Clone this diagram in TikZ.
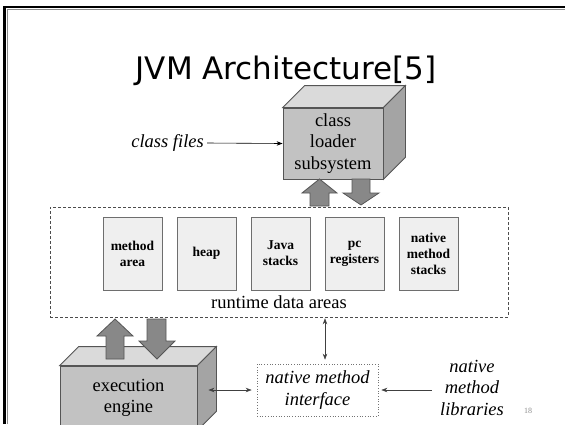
\documentclass[tikz,border=0pt]{standalone}
\usepackage{fontspec}
\setmainfont{Liberation Serif}
\newfontfamily\titlefont{DejaVu Sans}
\usetikzlibrary{arrows.meta,calc}

\definecolor{frontgray}{HTML}{C2C2C2}
\definecolor{topgray}{HTML}{DADADA}
\definecolor{sidegray}{HTML}{A4A4A4}
\definecolor{edgegray}{HTML}{555555}
\definecolor{arrowfill}{HTML}{888888}
\definecolor{cellfill}{HTML}{EFEFEF}
\definecolor{celledge}{HTML}{6E6E6E}

\tikzset{
  txt/.style={font=\fontsize{18.5}{21.5}\selectfont, align=center, inner sep=0pt},
  itxt/.style={txt, font=\fontsize{18.5}{21.5}\selectfont\itshape},
  front/.style={draw=edgegray, line width=0.8pt, fill=frontgray, txt},
  topface/.style={draw=edgegray, line width=0.8pt, fill=topgray},
  sideface/.style={draw=edgegray, line width=0.8pt, fill=sidegray},
  blockarrow/.style={draw=edgegray, line width=0.8pt, fill=arrowfill},
  cell/.style={draw=celledge, line width=0.8pt, fill=cellfill,
    minimum width=59pt, minimum height=73pt, inner sep=0pt,
    font=\fontsize{13.5}{16}\selectfont\bfseries, align=center},
  areabox/.style={draw=black!70, line width=0.6pt,
    dash pattern=on 3pt off 2pt, minimum width=458pt, minimum height=110pt},
  nmibox/.style={draw=black!55, dotted, line width=0.7pt, itxt,
    minimum width=121pt, minimum height=52pt},
  link/.style={line width=0.6pt, -{Stealth[length=6pt,width=4.5pt]}},
  biglink/.style={line width=0.6pt, black!75,
    {Stealth[length=6pt,width=4.5pt]}-{Stealth[length=6pt,width=4.5pt]}},
}

\begin{document}
\begin{tikzpicture}[x=1pt, y=-1pt]
\useasboundingbox (0,0) rectangle (565,424);
\clip (0,0) rectangle (565,424);

% slide frame
\draw[black!45, line width=0.8pt] (7,424) -- (7,9.5) -- (565,9.5);
\draw[black, line width=2.5pt] (4.5,424) -- (4.5,7) -- (565,7);

% title
\node[font=\titlefont\fontsize{31}{36}\selectfont, anchor=base, inner sep=0pt]
  (title) at (286,79) {JVM Architecture[5]};

% class loader subsystem (3D block)
\node[front, minimum width=100pt, minimum height=71pt] (cl) at (333,143.5)
  {class\\loader\\subsystem};
\draw[topface] (cl.north west) -- ++(22,-22) -- ($(cl.north east)+(22,-22)$)
  -- (cl.north east) -- cycle;
\draw[sideface] (cl.north east) -- ++(22,-22) -- ($(cl.south east)+(22,-22)$)
  -- (cl.south east) -- cycle;

% class files
\node[itxt, anchor=east] (cf) at (204,143) {class files};
\draw[link] (cf.east) ++(3,0) -- (cl.west);

% runtime data areas
\node[areabox] (rda) at (279,262) {};
\node[cell] (c1) at (132.5,253.5) {method\\area};
\node[cell] (c2) at (206.5,253.5) {heap};
\node[cell] (c3) at (280.5,253.5) {Java\\stacks};
\node[cell] (c4) at (354.5,253.5) {pc\\registers};
\node[cell] (c5) at (428.5,253.5) {native\\method\\stacks};
\node[txt] (rdalabel) at (279,302) {runtime data areas};

% block arrows between class loader and runtime data areas
\draw[blockarrow] (310,206) -- (310,193) -- (302,193) -- (319.5,179)
  -- (337,193) -- (329,193) -- (329,206) -- cycle;
\draw[blockarrow] (352,179) -- (370,179) -- (370,193) -- (379,193)
  -- (361,205) -- (343,193) -- (352,193) -- cycle;

% execution engine (3D block)
\node[front, minimum width=137pt, minimum height=64pt] (ee) at (128.5,398)
  {execution\\engine};
\draw[topface] (ee.north west) -- ++(19,-19) -- ($(ee.north east)+(19,-19)$)
  -- (ee.north east) -- cycle;
\draw[sideface] (ee.north east) -- ++(19,-19) -- ($(ee.south east)+(19,-19)$)
  -- (ee.south east) -- cycle;

% block arrows between runtime data areas and execution engine
\draw[blockarrow] (106,359) -- (106,336) -- (97,336) -- (115,319)
  -- (133,336) -- (124,336) -- (124,359) -- cycle;
\draw[blockarrow] (147,319) -- (166,319) -- (166,341) -- (175,341)
  -- (157,359) -- (139,341) -- (147,341) -- cycle;

% native method interface
\node[nmibox] (nmi) at (317.5,390) {native method\\interface};
\draw[biglink, shorten <=4pt, shorten >=1pt]
  ([xshift=7.5pt]nmi.north) -- ([xshift=7.5pt]nmi.north |- rda.south);
\draw[biglink, shorten <=11pt, shorten >=5pt]
  (ee.east |- nmi.west) -- (nmi.west);

% native method libraries
\node[itxt] (nml) at (472,387.5) {native\\method\\libraries};
\draw[link, black!75, shorten <=8pt, shorten >=3pt] (nml.west |- nmi.east) -- (nmi.east);

% page number
\node[font=\fontsize{8}{9}\selectfont, text=black!45] (pg) at (528,411) {18};
\end{tikzpicture}
\end{document}
